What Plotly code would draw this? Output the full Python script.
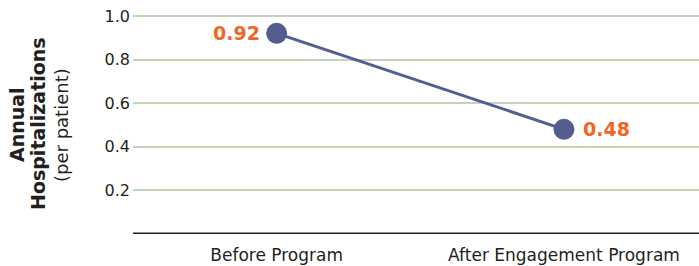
import plotly.graph_objects as go

categories = ["Before Program", "After Engagement Program"]
values = [0.92, 0.48]
value_labels = ["0.92", "0.48"]
y_ticks = [0.2, 0.4, 0.6, 0.8, 1.0]
y_tick_labels = ["0.2", "0.4", "0.6", "0.8", "1.0"]

FONT = "DejaVu Sans"
ORANGE = "#f26524"
NAVY = "#535d8f"
DARK = "#231f20"

L, T, B, W, H = 133, 5, 32, 699, 266
pw, ph = W - L, H - T - B

def px(x):
    return (x - L) / pw

def py(y):
    return (H - B - y) / ph

fig = go.Figure()
fig.add_trace(go.Scatter(
    x=[0, 1], y=values, mode="lines+markers",
    line=dict(color=NAVY, width=3),
    marker=dict(size=21, color=NAVY),
    hoverinfo="skip", showlegend=False,
))

annotations = [
    dict(x=0, y=values[0], xref="x", yref="y", text=f"<b>{value_labels[0]}</b>",
         xanchor="right", yanchor="middle", xshift=-15, showarrow=False,
         font=dict(color=ORANGE, size=19, family=FONT)),
    dict(x=1, y=values[1], xref="x", yref="y", text=f"<b>{value_labels[1]}</b>",
         xanchor="left", yanchor="middle", xshift=17, showarrow=False,
         font=dict(color=ORANGE, size=19, family=FONT)),
    dict(text="<b>Annual</b>", xref="paper", yref="paper", x=px(17), y=py(124),
         xanchor="center", yanchor="middle", textangle=-90, showarrow=False,
         font=dict(size=19, color=DARK, family=FONT)),
    dict(text="<b>Hospitalizations</b>", xref="paper", yref="paper", x=px(38), y=py(124),
         xanchor="center", yanchor="middle", textangle=-90, showarrow=False,
         font=dict(size=19, color=DARK, family=FONT)),
    dict(text="(per patient)", xref="paper", yref="paper", x=px(61), y=py(125),
         xanchor="center", yanchor="middle", textangle=-90, showarrow=False,
         font=dict(size=18, color=DARK, family=FONT)),
]

fig.update_layout(
    width=W, height=H,
    margin=dict(l=L, r=0, t=T, b=B, autoexpand=False),
    plot_bgcolor="white", paper_bgcolor="white",
    font=dict(family=FONT, color=DARK),
    xaxis=dict(
        range=[-0.5, 1.47], tickvals=[0, 1], ticktext=categories,
        showgrid=False, zeroline=False, showline=False, automargin=False,
        tickfont=dict(size=17, color=DARK), ticks="", ticklabelstandoff=9,
    ),
    yaxis=dict(
        range=[0, 1.05], tickvals=y_ticks, ticktext=y_tick_labels,
        showgrid=True, gridcolor="#c3d4bb", gridwidth=1.5, automargin=False,
        zeroline=False, showline=False, ticks="", ticklabelstandoff=2,
        tickfont=dict(size=16, color=DARK),
    ),
    annotations=annotations,
    shapes=[dict(type="line", xref="paper", yref="y", x0=0, x1=1, y0=0, y1=0,
                 line=dict(color=DARK, width=3))],
)
fig.write_html("out.html", config={"displayModeBar": False},
               post_script="document.body.style.margin='0';")
